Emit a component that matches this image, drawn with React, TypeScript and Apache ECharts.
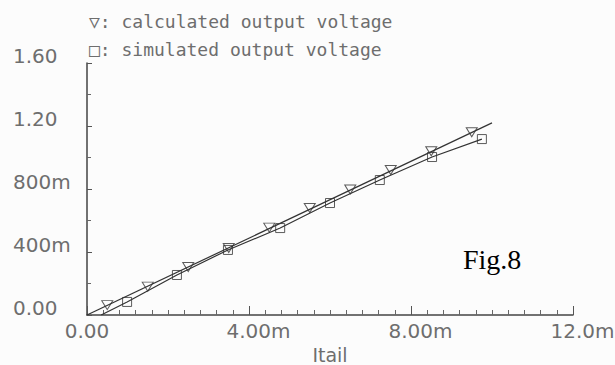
import React, { useEffect, useRef } from "react";
import * as echarts from "echarts";

// Calculated output voltage (triangles), Itail in mA, voltage in V
const calcCurrent = [0.5, 1.5, 2.5, 3.5, 4.5, 5.5, 6.5, 7.5, 8.5, 9.5];
const calcVoltage = [0.063, 0.18, 0.305, 0.425, 0.555, 0.679, 0.797, 0.921, 1.04, 1.16];
// calculated line end points
const calcLineCurrent = [0, 10.0];
const calcLineVoltage = [0, 1.22];

// Simulated output voltage (squares)
const simCurrent = [0.99, 2.22, 3.48, 4.77, 6.0, 7.23, 8.52, 9.75];
const simVoltage = [0.083, 0.254, 0.413, 0.552, 0.711, 0.857, 1.003, 1.117];
const simLineStartCurrent = 0.35;
const simLineStartVoltage = 0;

const xTickLabels = ["0.00", "4.00m", "8.00m", "12.0m"];
const yTickLabels = ["0.00", "400m", "800m", "1.20", "1.60"];

const legendLines = ["▽: calculated output voltage", "□: simulated output voltage"];
const xAxisName = "Itail";
const figLabel = "Fig.8";

const FONT = "DejaVu Sans";
const MONO = "DejaVu Sans Mono";
const GRAY = "#6e6e6e";
const INK = "#333";

export default function App() {
  const ref = useRef<HTMLDivElement>(null);
  useEffect(() => {
    if (!ref.current) return;
    const chart = echarts.init(ref.current, null, { renderer: "svg" });
    const calcPts = calcCurrent.map((x, i) => [x, calcVoltage[i]]);
    const simPts = simCurrent.map((x, i) => [x, simVoltage[i]]);
    const calcLine = calcLineCurrent.map((x, i) => [x, calcLineVoltage[i]]);
    const simLine = [[simLineStartCurrent, simLineStartVoltage], ...simPts];
    chart.setOption({
      animation: false,
      backgroundColor: "#fcfcfc",
      grid: { left: 87, right: 42, top: 63, bottom: 50, outerBoundsMode: "none" },
      xAxis: {
        type: "value",
        min: 0,
        max: 12,
        interval: 4,
        name: xAxisName,
        nameLocation: "middle",
        nameGap: 26,
        nameTextStyle: { fontFamily: FONT, fontSize: 19, color: GRAY },
        axisLine: { lineStyle: { color: "#444", width: 1.5 } },
        axisTick: { inside: true, length: 9, lineStyle: { color: "#555" } },
        minorTick: { show: true, splitNumber: 10, length: 5, lineStyle: { color: "#666" } },
        splitLine: { show: false },
        axisLabel: {
          margin: 6,
          formatter: (v: number) => {
            const t = xTickLabels[Math.round(v / 4)] ?? "";
            return t.endsWith("m") ? `{m|${t}}` : `{n|${t}}`;
          },
          rich: {
            m: { fontFamily: FONT, fontSize: 20, color: GRAY, padding: [0, 0, 0, 19] },
            n: { fontFamily: FONT, fontSize: 20, color: GRAY },
          },
        },
      },
      yAxis: {
        type: "value",
        min: 0,
        max: 1.6,
        interval: 0.4,
        axisLine: { show: true, lineStyle: { color: "#444", width: 1.5 } },
        axisTick: { show: true, inside: true, length: 5, lineStyle: { color: "#555" } },
        minorTick: { show: true, splitNumber: 2, length: 4, lineStyle: { color: "#666" } },
        splitLine: { show: false },
        axisLabel: {
          align: "left",
          margin: 74,
          formatter: (v: number) => `{y|${yTickLabels[Math.round(v / 0.4)] ?? ""}}`,
          rich: {
            y: { fontFamily: FONT, fontSize: 20, color: GRAY, padding: [0, 0, 14, 0] },
          },
        },
      },
      graphic: [
        {
          type: "text",
          left: 89,
          top: 12,
          style: { text: legendLines[0], font: `18px "${MONO}"`, fill: GRAY },
        },
        {
          type: "text",
          left: 89,
          top: 40,
          style: { text: legendLines[1], font: `18px "${MONO}"`, fill: GRAY },
        },
        {
          type: "text",
          left: 463,
          top: 245,
          style: { text: figLabel, font: `28px "Liberation Serif"`, fill: "#000" },
        },
      ],
      series: [
        {
          name: "calculated line",
          type: "line",
          data: calcLine,
          symbol: "none",
          lineStyle: { color: INK, width: 1.2 },
          silent: true,
        },
        {
          name: "simulated line",
          type: "line",
          data: simLine,
          symbol: "none",
          lineStyle: { color: INK, width: 1.2 },
          silent: true,
        },
        {
          name: "calculated output voltage",
          type: "scatter",
          data: calcPts,
          symbol: "triangle",
          symbolRotate: 180,
          symbolSize: [11, 9],
          itemStyle: { color: "transparent", borderColor: INK, borderWidth: 1 },
        },
        {
          name: "simulated output voltage",
          type: "scatter",
          data: simPts,
          symbol: "rect",
          symbolSize: 9,
          itemStyle: { color: "transparent", borderColor: INK, borderWidth: 1 },
        },
      ],
    });
    return () => chart.dispose();
  }, []);
  return (
    <div
      ref={ref}
      style={{ position: "fixed", left: 0, top: 0, width: 615, height: 365 }}
    />
  );
}
